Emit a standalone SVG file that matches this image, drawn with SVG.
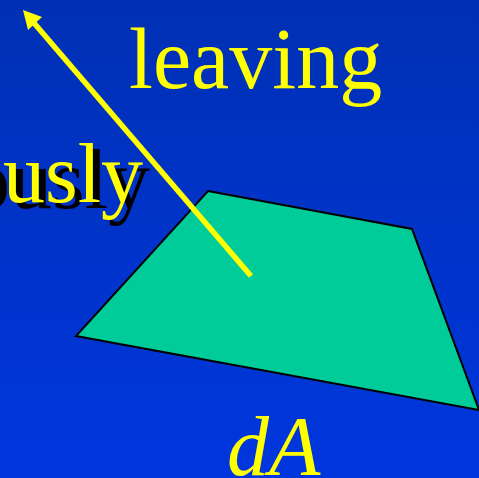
<svg xmlns="http://www.w3.org/2000/svg" width="479" height="478" viewBox="0 0 479 478">
<defs>
<linearGradient id="bg" x1="0" y1="0" x2="0" y2="1">
<stop offset="0" stop-color="#0030b4"/>
<stop offset="1" stop-color="#0036de"/>
</linearGradient>
<style>
.t{font-family:"Liberation Serif","Times New Roman",serif;font-size:84px}
.y{fill:#ffff00}
</style>
</defs>
<rect width="479" height="478" fill="url(#bg)"/>
<g id="label-leaving"><text class="t y" x="129" y="88" style="font-size:86px">leaving</text></g>
<g id="label-ously">
<text class="t" x="150" y="208" text-anchor="end" fill="#000">ously</text>
<text class="t y" x="143" y="202" text-anchor="end">ously</text>
</g>
<g id="surface"><polygon points="208,191 412,229 479,410 76,336" fill="#00cc99" stroke="#000" stroke-width="2"/></g>
<g id="connectors">
<line x1="251" y1="276" x2="34" y2="23" stroke="#ffff00" stroke-width="5.5"/>
<polygon points="23,10 42,17 28,30" fill="#ffff00"/>
</g>
<g id="label-dA"><text class="t y" x="227" y="475" font-style="italic">dA</text></g>
</svg>
